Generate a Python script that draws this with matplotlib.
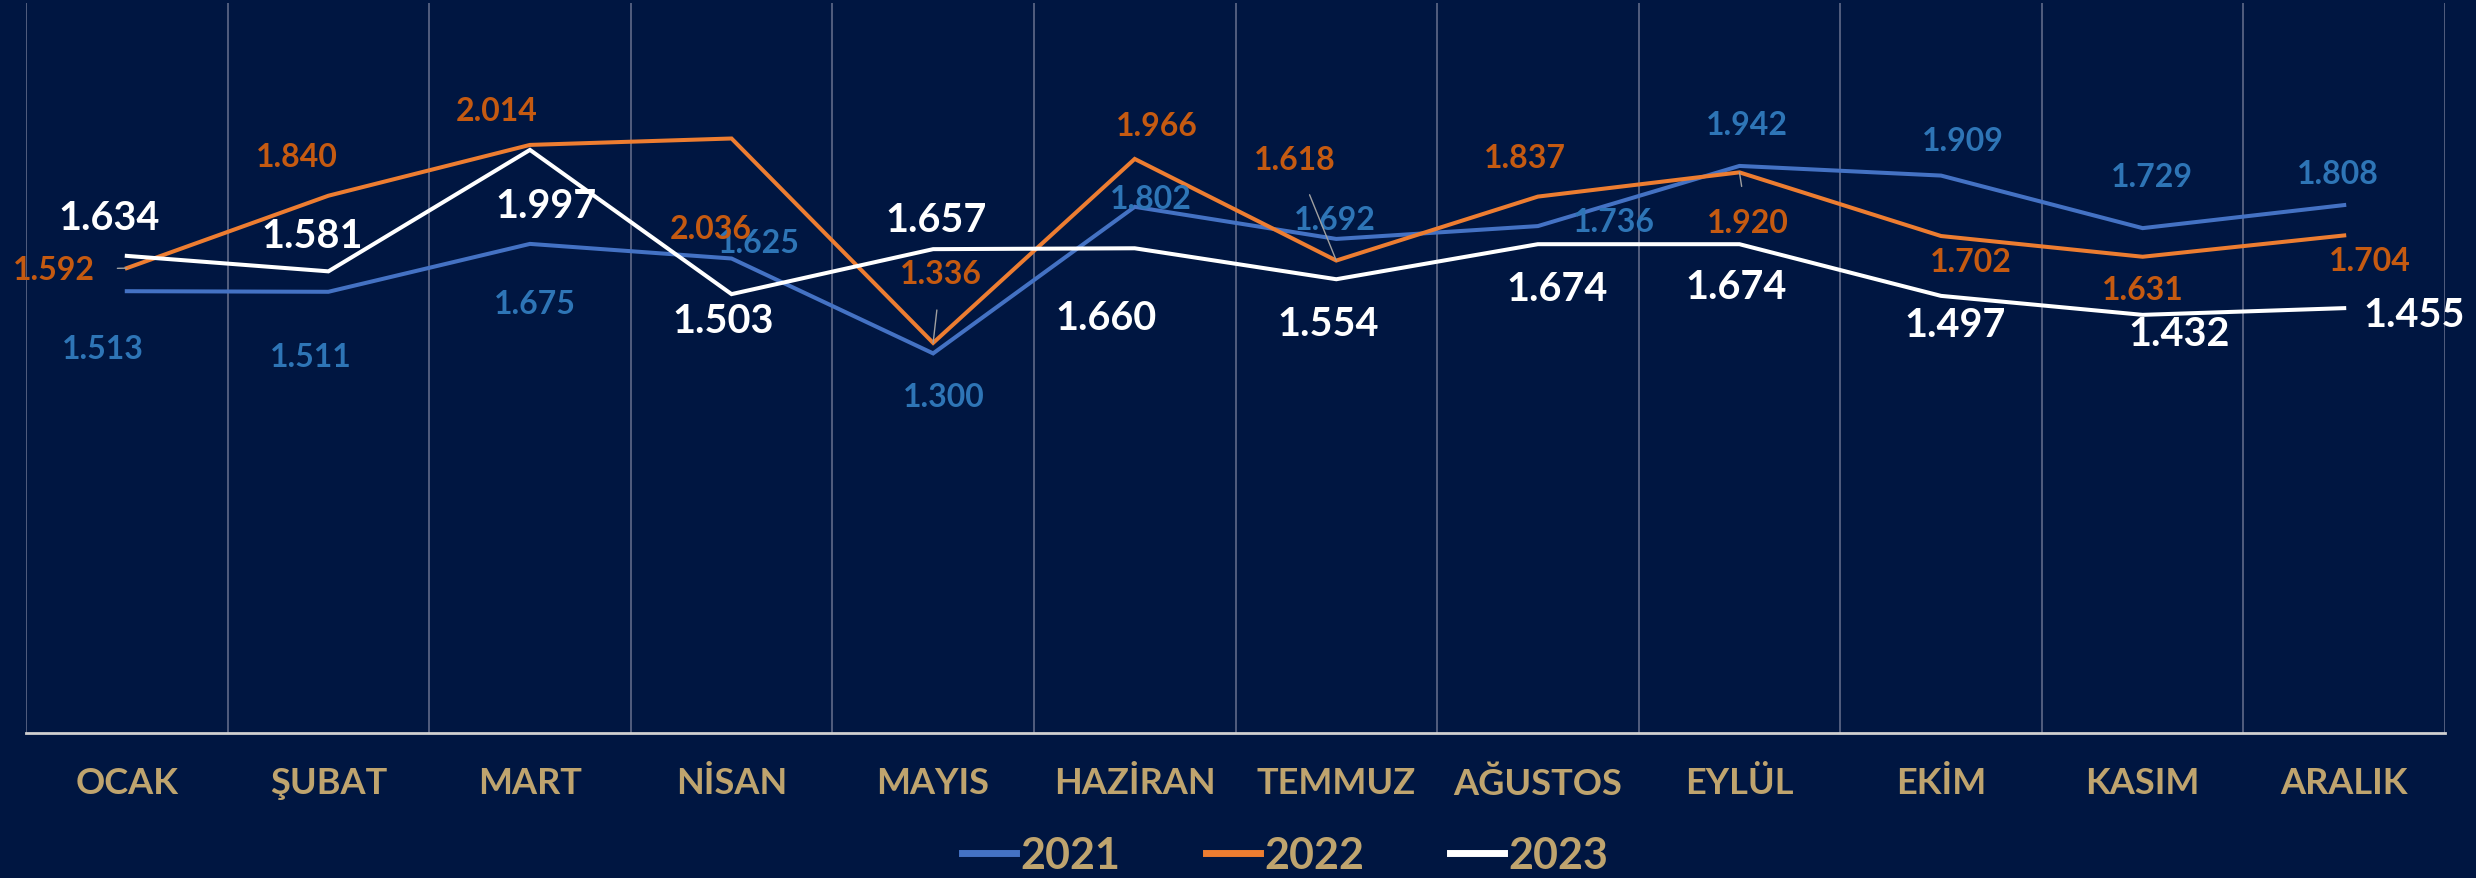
import matplotlib
matplotlib.use("Agg")
import matplotlib.pyplot as plt
from matplotlib.font_manager import FontProperties

months = ["OCAK", "ŞUBAT", "MART", "NİSAN", "MAYIS", "HAZİRAN", "TEMMUZ",
          "AĞUSTOS", "EYLÜL", "EKİM", "KASIM", "ARALIK"]
v2021 = [1513, 1511, 1675, 1625, 1300, 1802, 1692, 1736, 1942, 1909, 1729, 1808]
v2022 = [1592, 1840, 2014, 2036, 1336, 1966, 1618, 1837, 1920, 1702, 1631, 1704]
v2023 = [1634, 1581, 1997, 1503, 1657, 1660, 1554, 1674, 1674, 1497, 1432, 1455]
years = ["2021", "2022", "2023"]

# label offsets (in reference-preview pixels, +y = down)
off2021 = [(-15, 36), (-11, 41), (3, 38), (17, -10), (7, 27), (10, -5),
           (-1, -12), (48, -3), (5, -26), (14, -22), (6, -33), (-4, -20)]
off2022 = [(-46, 1), (-20, -25), (-21, -22), (-13, 57), (5, -44), (14, -21),
           (-26, -64), (-8, -25), (5, 32), (19, 16), (0, 21), (16, 16)]
off2023 = [(-11, -24), (-10, -23), (10, 35), (-5, 17), (2, -19), (-18, 44),
           (-5, 28), (12, 28), (-2, 27), (9, 18), (23, 12), (44, 4)]
leader2022 = [0, 4, 6, 8]

BG = "#001641"
GOLD = "#bfa46e"
line_colors = ["#4472c4", "#ed7d31", "#ffffff"]
label_colors = ["#2e75b6", "#c55a11", "#ffffff"]
SC = 2476 / 1568

fig = plt.figure(figsize=(24.76, 8.79), dpi=100, facecolor=BG)
ax = fig.add_axes([26 / 2476, 1 - 734 / 879, (2445 - 26) / 2476, (734 - 4) / 879])
ax.set_facecolor(BG)

x = [i + 0.5 for i in range(len(months))]
series = [v2021, v2022, v2023]
offs = [off2021, off2022, off2023]
for k, vals in enumerate(series):
    ax.plot(x, vals, color=line_colors[k], lw=2.9, label=years[k],
            solid_joinstyle="miter", zorder=3)

for k, vals in enumerate(series):
    big = (k == 2)
    fp = FontProperties(family="Lato", weight="bold", size=28.5 if big else 23)
    for i, v in enumerate(vals):
        dx, dy = offs[k][i]
        txt = f"{v/1000:.3f}"
        kw = {}
        if k == 1 and i in leader2022:
            kw = dict(arrowprops=dict(arrowstyle="-", color="#a0a0a0", lw=1.0,
                                      shrinkA=14, shrinkB=0))
        ax.annotate(txt, (x[i], v), xytext=(dx * SC, -dy * SC),
                    textcoords="offset pixels", ha="center", va="center",
                    color=label_colors[k], fontproperties=fp, zorder=5, **kw)

ax.set_xlim(0, 12)
ax.set_ylim(0, 2500)
ax.set_yticks([])
ax.set_xticks(x)
ax.set_xticklabels(months, color=GOLD,
                   fontproperties=FontProperties(family="Lato", weight="bold", size=26))
ax.set_xticks(range(13), minor=True)
ax.tick_params(axis="x", which="both", length=0, pad=24)
ax.grid(axis="x", which="minor", color="#5f6a88", lw=1.2)
ax.grid(axis="x", which="major", visible=False)
for s in ["top", "left", "right"]:
    ax.spines[s].set_visible(False)
ax.spines["bottom"].set_color("#d0d0d0")
ax.spines["bottom"].set_linewidth(2)

leg = fig.legend(loc="center", bbox_to_anchor=(1285 / 2476, 1 - 856 / 879), ncol=3,
                 frameon=False, handlelength=1.25, handletextpad=0.1, columnspacing=2.0,
                 prop=FontProperties(family="Lato", weight="bold", size=31))
for t in leg.get_texts():
    t.set_color(GOLD)
for h in leg.get_lines():
    h.set_linewidth(5)

fig.savefig("out.png", dpi=100, facecolor=BG)
